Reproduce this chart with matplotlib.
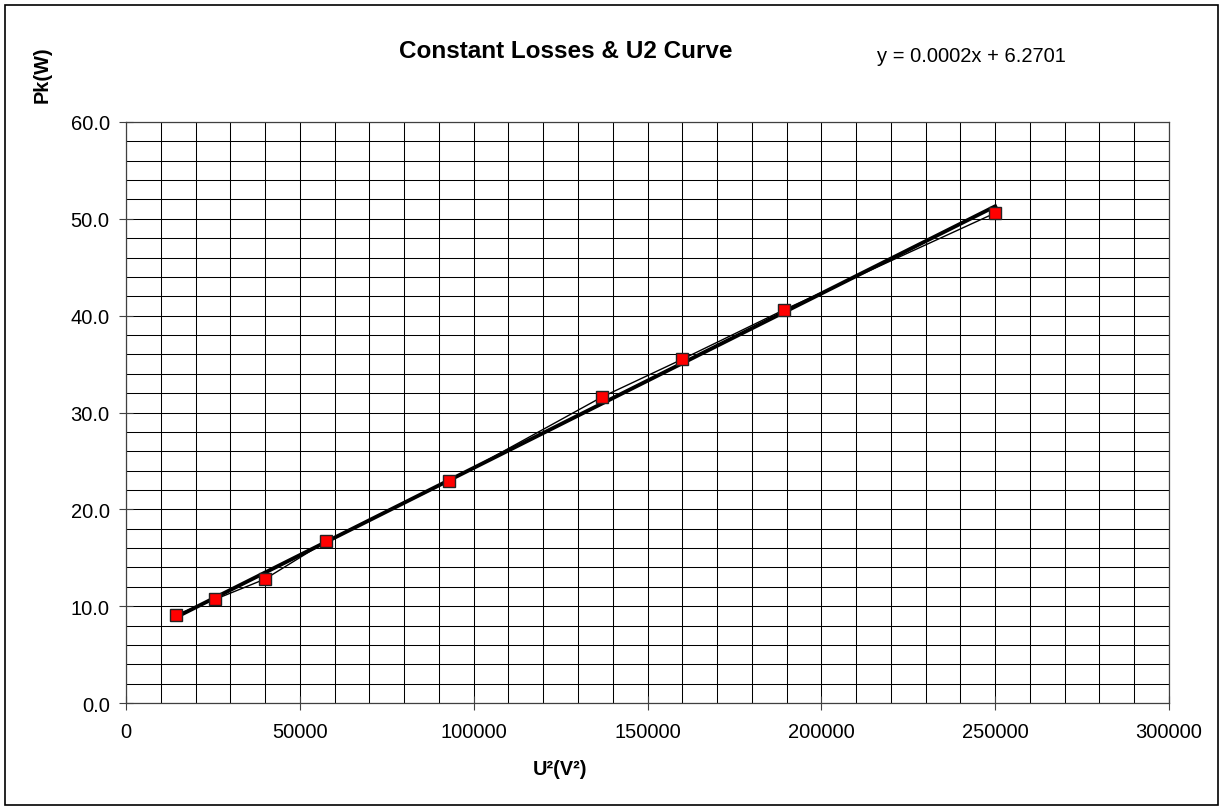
import matplotlib
matplotlib.use('Agg')
import matplotlib.pyplot as plt
from matplotlib.patches import Rectangle
from matplotlib.ticker import MultipleLocator, FormatStrFormatter
import numpy as np

plt.rcParams['font.family'] = ['Liberation Sans', 'DejaVu Sans']

# U^2 (V^2) and measured losses Pk (W)
u_sq = [14400, 25600, 40000, 57600, 92900, 136900, 160000, 189225, 250000]
pk = [9.1, 10.7, 12.8, 16.7, 22.9, 31.6, 35.5, 40.6, 50.6]
equation_text = 'y = 0.0002x + 6.2701'

fig = plt.figure(figsize=(12.23, 8.12), dpi=100)
ax = fig.add_axes([126 / 1223, 1 - 704 / 812, (1169 - 126) / 1223, (704 - 123) / 812])

# outer chart frame
fig.patches.append(Rectangle((5 / 1223, 6 / 812), 1213 / 1223, 800 / 812, transform=fig.transFigure,
                             fill=False, edgecolor='black', linewidth=1.2))

ax.set_xlim(0, 300000)
ax.set_ylim(0, 60)
ax.xaxis.set_major_locator(MultipleLocator(50000))
ax.xaxis.set_minor_locator(MultipleLocator(10000))
ax.yaxis.set_major_locator(MultipleLocator(10))
ax.yaxis.set_minor_locator(MultipleLocator(2))
ax.yaxis.set_major_formatter(FormatStrFormatter('%.1f'))
ax.grid(which='both', color='black', linewidth=0.75)
ax.set_axisbelow(True)
ax.tick_params(axis='both', which='major', direction='inout', length=9.5, width=0.8,
               labelsize=14.5, color='#404040')
ax.tick_params(axis='both', which='minor', length=0)
ax.tick_params(axis='x', pad=9)
ax.tick_params(axis='y', pad=7)
for sp in ax.spines.values():
    sp.set_color('#404040')
    sp.set_linewidth(0.9)

# linear trendline
coef = np.polyfit(u_sq, pk, 1)
xs = np.array([min(u_sq), max(u_sq)])
ax.plot(xs, np.polyval(coef, xs), color='black', linewidth=2.8, zorder=3)

# measured data
ax.plot(u_sq, pk, color='black', linewidth=1.0, marker='s', markersize=8.5,
        markerfacecolor='#ff0000', markeredgecolor='#222222', markeredgewidth=1.0, zorder=4)

fig.text(566 / 1223, 1 - 51 / 812, 'Constant Losses & U2 Curve', ha='center', va='center',
         fontsize=17.5, fontweight='bold')
fig.text(971 / 1223, 1 - 56 / 812, equation_text, ha='center', va='center', fontsize=14.5)
fig.text(42 / 1223, 1 - 75 / 812, 'Pk(W)', ha='center', va='center', rotation=90,
         fontsize=14.3, fontweight='bold')
fig.text(560 / 1223, 1 - 770 / 812, 'U²(V²)', ha='center', va='center',
         fontsize=14.3, fontweight='bold')

fig.savefig('out.png', dpi=100)
